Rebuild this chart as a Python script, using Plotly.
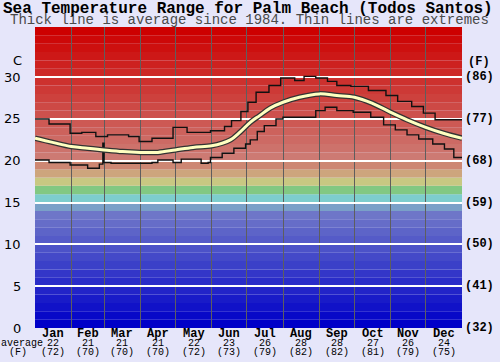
import plotly.graph_objects as go

# ---------------- data ----------------
months = ["Jan", "Feb", "Mar", "Apr", "May", "Jun", "Jul", "Aug", "Sep", "Oct", "Nov", "Dec"]
month_avg_c = [22, 21, 21, 21, 22, 23, 26, 28, 28, 27, 26, 24]
month_avg_f = [72, 70, 70, 70, 72, 73, 79, 82, 82, 81, 79, 75]
month_start = [0, 31, 59, 90, 120, 151, 181, 212, 243, 273, 304, 334]
celsius_ticks = [0, 5, 10, 15, 20, 25, 30]
fahrenheit_ticks = ["(32)", "(41)", "(50)", "(59)", "(68)", "(77)", "(86)"]

avg_days = [0, 15, 31, 45, 59, 75, 90, 105, 120, 135, 151, 160, 167, 175, 184,
            192, 201, 212, 226, 243, 258, 273, 288, 304, 318, 334, 349, 365]
avg_vals = [22.7, 22.2, 21.7, 21.5, 21.3, 21.1, 21.0, 21.0, 21.3, 21.6, 21.8, 22.1, 22.5, 23.4, 24.6,
            25.4, 26.3, 27.0, 27.6, 28.0, 27.8, 27.6, 26.9, 25.8, 24.9, 24.0, 23.3, 22.7]

max_days = [0, 12, 30, 40, 52, 62, 80, 89, 100, 118, 130, 150, 162, 168, 176, 182, 189,
            200, 210, 222, 230, 240, 250, 258, 270, 285, 300, 310, 322, 332, 342, 365]
max_vals = [25.0, 24.4, 23.3, 23.4, 22.9, 23.1, 22.9, 22.3, 22.7, 24.0, 23.4, 23.6, 24.1, 24.8, 25.9, 27.0, 28.2,
            29.0, 29.9, 29.6, 30.1, 29.9, 29.5, 29.0, 28.9, 28.4, 27.8, 27.1, 26.5, 25.7, 24.9, 24.9]

min_days = [0, 12, 30, 45, 55, 58, 59, 65, 100, 105, 118, 125, 142, 148, 150, 160, 170, 180, 184,
            190, 196, 206, 212, 240, 248, 258, 272, 287, 298, 308, 318, 328, 340, 350, 358, 365]
min_vals = [20.1, 19.8, 19.5, 19.1, 19.6, 22.1, 19.8, 19.7, 19.8, 20.1, 19.8, 20.2, 19.7, 19.8, 20.4, 20.9, 21.5, 22.0, 22.5,
            23.5, 24.2, 25.0, 25.2, 26.0, 26.4, 26.0, 25.8, 25.2, 24.3, 23.7, 23.1, 22.6, 22.0, 21.4, 20.4, 20.3]

# ---------------- layout geometry ----------------
W, H = 500, 362
L, R, T, B = 35, 38, 27, 34
PW, PH = W - L - R, H - T - B


def px(x):
    return (x - L) / PW


def py(y):
    return (H - B - y) / PH


MONO = "Liberation Mono, Courier New, monospace"


def band_color(d):
    special = {14: (122, 160, 200), 15: (125, 205, 205), 16: (130, 200, 130),
               17: (200, 200, 130), 18: (205, 165, 125), 19: (205, 135, 115)}
    if d in special:
        c = special[d]
    elif d < 14:
        t = d / 13
        c = (0 + 110 * t, 0 + 118 * t, 200)
    else:
        t = (d - 20) / 15
        c = (205, 122 * (1 - t), 115 * (1 - t))
    return "rgb(%d,%d,%d)" % tuple(int(round(v)) for v in c)


fig = go.Figure()

shapes = []
for d in range(36):
    shapes.append(dict(type="rect", xref="x", yref="y", x0=0, x1=365, y0=d, y1=d + 1,
                       fillcolor=band_color(d), line=dict(width=0), layer="below"))

# traces
fig.add_trace(go.Scatter(x=max_days, y=max_vals, mode="lines", line=dict(color="#111", width=1.4, shape="hv"),
                         hoverinfo="skip"))
fig.add_trace(go.Scatter(x=min_days, y=min_vals, mode="lines", line=dict(color="#111", width=1.4, shape="hv"),
                         hoverinfo="skip"))
fig.add_trace(go.Scatter(x=avg_days, y=avg_vals, mode="lines", line=dict(color="#333", width=5.5, shape="spline"),
                         hoverinfo="skip"))
fig.add_trace(go.Scatter(x=avg_days, y=avg_vals, mode="lines", line=dict(color="#FFFFC0", width=3, shape="spline"),
                         hoverinfo="skip"))

ann = []
ann.append(dict(text="<b>Sea Temperature Range for Palm Beach (Todos Santos)</b>", x=px(248), y=py(9),
                xref="paper", yref="paper", showarrow=False, font=dict(family=MONO, size=16, color="#000"),
                xanchor="center", yanchor="middle"))
ann.append(dict(text="Thick line is average since 1984. Thin lines are extremes", x=px(249), y=py(20),
                xref="paper", yref="paper", showarrow=False, font=dict(family=MONO, size=14, color="#4a4a4a"),
                xanchor="center", yanchor="middle"))

for i, m in enumerate(months):
    end = month_start[i + 1] if i < 11 else 365
    mid = (month_start[i] + end) / 2
    ann.append(dict(text="<b>%s</b>" % m, x=mid, y=py(334), xref="x", yref="paper", showarrow=False,
                    font=dict(family=MONO, size=12, color="#000"), xanchor="center", yanchor="middle"))
    ann.append(dict(text="%d" % month_avg_c[i], x=mid, y=py(343.5), xref="x", yref="paper", showarrow=False,
                    font=dict(family=MONO, size=10, color="#000"), xanchor="center", yanchor="middle"))
    ann.append(dict(text="(%d)" % month_avg_f[i], x=mid, y=py(352.5), xref="x", yref="paper", showarrow=False,
                    font=dict(family=MONO, size=10, color="#000"), xanchor="center", yanchor="middle"))

ann.append(dict(text="average", x=px(22), y=py(343.5), xref="paper", yref="paper", showarrow=False,
                font=dict(family=MONO, size=10, color="#000"), xanchor="center", yanchor="middle"))
ann.append(dict(text="(F)", x=px(18), y=py(352.5), xref="paper", yref="paper", showarrow=False,
                font=dict(family=MONO, size=10, color="#000"), xanchor="center", yanchor="middle"))

for c, f in zip(celsius_ticks, fahrenheit_ticks):
    ann.append(dict(text=str(c), x=px(23), y=c, xref="paper", yref="y", showarrow=False,
                    font=dict(family="DejaVu Sans", size=13, color="#000"), xanchor="right", yanchor="middle"))
    ann.append(dict(text="<b>%s</b>" % f, x=px(479), y=c, xref="paper", yref="y", showarrow=False,
                    font=dict(family=MONO, size=12, color="#000"), xanchor="center", yanchor="middle"))

ann.append(dict(text="C", x=px(17), y=py(61), xref="paper", yref="paper", showarrow=False,
                font=dict(family="DejaVu Sans", size=13, color="#000"), xanchor="center", yanchor="middle"))
ann.append(dict(text="<b>(F)</b>", x=px(479), y=py(62), xref="paper", yref="paper", showarrow=False,
                font=dict(family=MONO, size=12, color="#000"), xanchor="center", yanchor="middle"))

fig.update_layout(
    width=W, height=H,
    margin=dict(l=L, r=R, t=T, b=B, pad=0),
    paper_bgcolor="#E6E6FA",
    plot_bgcolor="#E6E6FA",
    showlegend=False,
    shapes=shapes,
    annotations=ann,
    xaxis=dict(range=[0, 365], tickvals=month_start[1:], showticklabels=False, ticks="",
               showgrid=True, gridcolor="#5e5e5e", gridwidth=1, zeroline=False, showline=False, fixedrange=True),
    yaxis=dict(range=[0, 36], tickvals=celsius_ticks[1:], showticklabels=False, ticks="",
               showgrid=True, gridcolor="#ffffff", gridwidth=2, zeroline=False, showline=False, fixedrange=True),
)

fig.write_html("out.html", config={"displayModeBar": False},
               post_script="document.body.style.margin='0';document.body.style.padding='0';"
                           "document.body.style.background='#E6E6FA';")
